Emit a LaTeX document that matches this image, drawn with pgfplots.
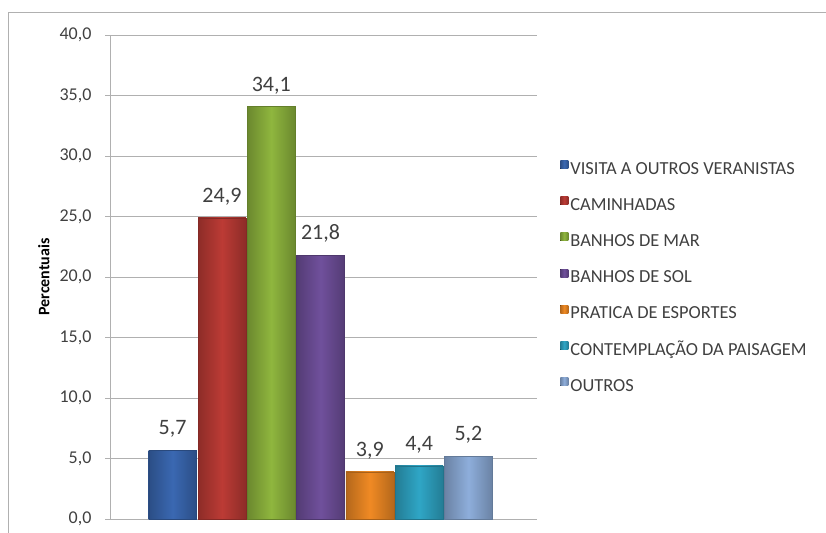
\documentclass[border=0pt]{standalone}
\usepackage{pgfplots}
\pgfplotsset{compat=1.18}
\usepackage{fontspec}
\setmainfont{Carlito}

\definecolor{cBlue}{HTML}{3A68B2}
\definecolor{cRed}{HTML}{BC3B35}
\definecolor{cGreen}{HTML}{8FB63E}
\definecolor{cPurple}{HTML}{70509C}
\definecolor{cOrange}{HTML}{F08A24}
\definecolor{cCyan}{HTML}{2FA6C6}
\definecolor{cLight}{HTML}{8EAEDB}
\definecolor{gridgray}{HTML}{B0B0B0}
\definecolor{txt}{HTML}{404040}

\pgfplotsset{
  bevel/.style={left color=#1!75!black, right color=#1!75!black, middle color=#1, draw=#1!70!black, line width=0.3pt},
}

\begin{document}
\begin{tikzpicture}[x=1pt,y=1pt]
\useasboundingbox (0,0) rectangle (826,532);
\draw[gridgray, line width=1pt] (8,-10) rectangle (840,519);
\begin{axis}[
  at={(110pt,13pt)}, anchor=south west,
  scale only axis, width=427pt, height=484pt,
  ybar, bar width=0.97, bar shift=0pt,
  xmin=-1.27, xmax=7.39,
  ymin=0, ymax=40, ytick={0,5,...,40},
  xtick=\empty,
  axis x line*=bottom, axis y line*=left,
  axis line style={gridgray, -},
  ymajorgrids, grid style={gridgray, line width=0.6pt},
  major tick length=5pt, ytick style={gridgray}, tick align=outside,
  /pgf/number format/.cd, fixed, fixed zerofill, precision=1, use comma, assume math mode=true,
  /pgfplots/.cd,
  yticklabel style={font=\fontsize{18}{20}\selectfont, text=txt, xshift=-10pt},
  ylabel={\bfseries Percentuais},
  ylabel style={at={(axis description cs:-0.155,0.5)}, anchor=center, font=\fontsize{16}{18}\selectfont, text=black},
  nodes near coords,
  every node near coord/.append style={font=\fontsize{22}{24}\selectfont, text=txt, yshift=9pt},
  legend style={at={(axis description cs:1.054,0.741)}, anchor=north west, draw=none, fill=none,
    font=\fontsize{18.4}{20}\selectfont, text=txt, row sep=18.7pt, inner sep=0pt,
    nodes={inner sep=0pt, text height=13pt, text depth=4pt}},
  legend cell align=left,
  legend image code/.code={\fill[#1, draw=none] (0pt,1pt) rectangle (8pt,9pt); \path (10pt,5pt);},
]
\addplot[bevel=cBlue] coordinates {(0,5.7)};
\addplot[bevel=cRed] coordinates {(1,24.9)};
\addplot[bevel=cGreen] coordinates {(2,34.1)};
\addplot[bevel=cPurple] coordinates {(3,21.8)};
\addplot[bevel=cOrange] coordinates {(4,3.9)};
\addplot[bevel=cCyan] coordinates {(5,4.4)};
\addplot[bevel=cLight] coordinates {(6,5.2)};
\legend{VISITA A OUTROS VERANISTAS, CAMINHADAS, BANHOS DE MAR, BANHOS DE SOL, PRATICA DE ESPORTES, CONTEMPLAÇÃO DA PAISAGEM, OUTROS}
\end{axis}
\end{tikzpicture}
\end{document}
